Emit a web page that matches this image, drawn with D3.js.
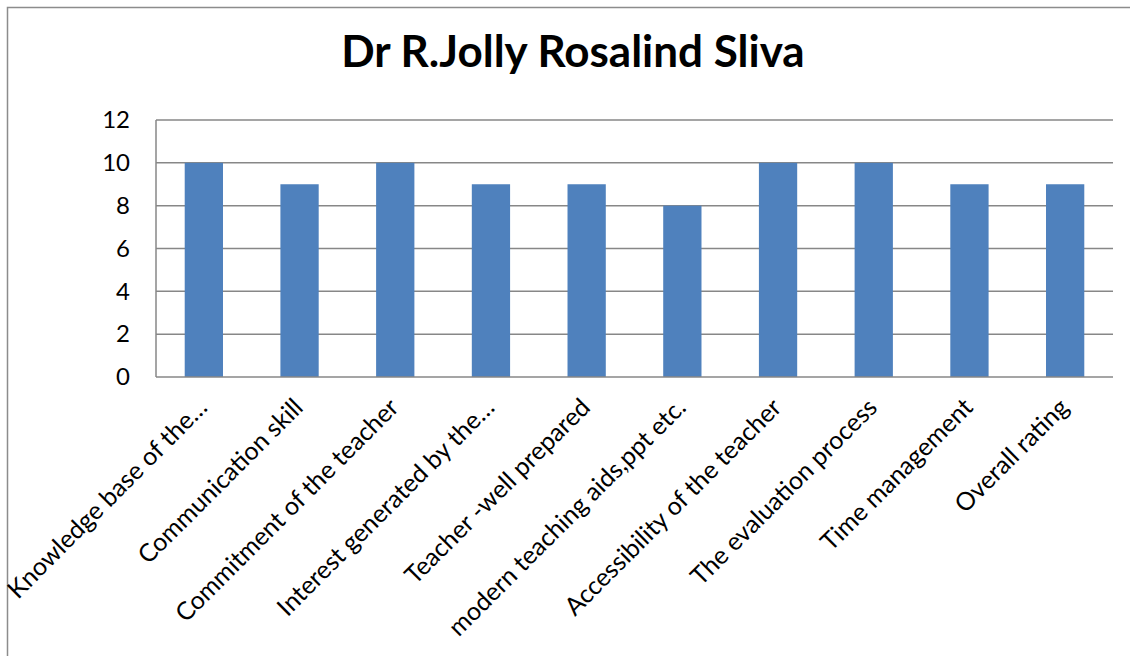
<!DOCTYPE html>
<html><head><meta charset="utf-8">
<script src="https://cdn.jsdelivr.net/npm/d3@7"></script>
<style>html,body{margin:0;padding:0;background:#fff;}svg{display:block;}</style>
</head><body>
<svg id="chart" width="1130" height="656"></svg>
<script>
const title = "Dr R.Jolly Rosalind Sliva";
const categories = ["Knowledge base of the\u2026","Communication skill","Commitment of the teacher","Interest generated by the\u2026","Teacher -well prepared","modern teaching aids,ppt etc.","Accessibility of the teacher","The evaluation process","Time management","Overall rating"];
const values = [10,9,10,9,9,8,10,10,9,9];
const yTicks = [0,2,4,6,8,10,12];

const svg = d3.select("#chart");
const font = "Lato, 'Open Sans', sans-serif";
const m = {left:156, right:1113, top:120, bottom:377};

// outer frame
svg.append("rect").attr("x",7.5).attr("y",7.5).attr("width",1140).attr("height",700)
  .attr("fill","none").attr("stroke","#8c8c8c").attr("stroke-width",1.5);

const x = d3.scaleBand().domain(categories).range([m.left,m.right]).paddingInner(0.6).paddingOuter(0.3);
const y = d3.scaleLinear().domain([0,12]).range([m.bottom,m.top]);

// gridlines
svg.append("g").selectAll("line").data(yTicks.filter(d=>d>0)).join("line")
  .attr("x1",m.left).attr("x2",m.right).attr("y1",d=>y(d)).attr("y2",d=>y(d))
  .attr("stroke","#878787").attr("stroke-width",1.5);

// bars
svg.append("g").selectAll("rect").data(values).join("rect")
  .attr("x",(d,i)=>x(categories[i])).attr("width",x.bandwidth())
  .attr("y",d=>y(d)).attr("height",d=>y(0)-y(d))
  .attr("fill","#4f81bd");

// axes lines
svg.append("line").attr("x1",m.left).attr("x2",m.left).attr("y1",m.top).attr("y2",m.bottom)
  .attr("stroke","#878787").attr("stroke-width",1.5);
svg.append("line").attr("x1",m.left).attr("x2",m.right).attr("y1",m.bottom).attr("y2",m.bottom)
  .attr("stroke","#878787").attr("stroke-width",1.5);

// y tick labels
const yAxis = d3.axisLeft(y).tickValues(yTicks).tickSize(0).tickPadding(26);
const gy = svg.append("g").attr("transform",`translate(${m.left},0)`).call(yAxis);
gy.select(".domain").remove();
gy.selectAll("text").attr("font-family",font).attr("font-size",24).attr("fill","#000");

// x labels
const xAxis = d3.axisBottom(x).tickSize(0).tickPadding(0);
const gx = svg.append("g").attr("transform",`translate(0,${m.bottom})`).call(xAxis);
gx.select(".domain").remove();
gx.selectAll("text")
  .attr("font-family",font).attr("font-size",25).attr("fill","#000")
  .attr("text-anchor","end").attr("dy",null).attr("y",null)
  .attr("transform","translate(5,32) rotate(-45)");

// title
svg.append("text").attr("x",573).attr("y",67)
  .attr("text-anchor","middle").attr("font-family",font).attr("font-weight","bold")
  .attr("font-size",44).attr("fill","#000").text(title);
</script>
</body></html>
